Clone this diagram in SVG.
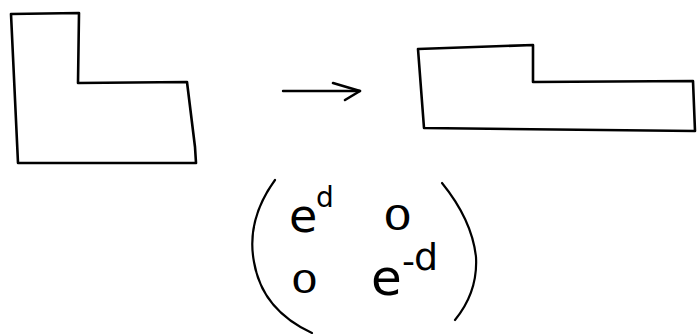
<svg xmlns="http://www.w3.org/2000/svg" width="697" height="334" viewBox="0 0 697 334">
<style>
.shape{fill:none;stroke:#000;stroke-width:2.6;stroke-linejoin:round;stroke-linecap:round}
.conn{fill:none;stroke:#000;stroke-width:2.4;stroke-linecap:round}
.paren{fill:none;stroke:#000;stroke-width:2.2;stroke-linecap:round}
.m{font-family:"DejaVu Sans",sans-serif;fill:#000}
</style>
<defs>
<marker id="head" markerUnits="userSpaceOnUse" markerWidth="34" markerHeight="24" refX="29" refY="10" orient="auto">
<path d="M2,2 L29,10 L14,19" fill="none" stroke="#000" stroke-width="2.6" stroke-linecap="round" stroke-linejoin="round"/>
</marker>
</defs>
<rect width="697" height="334" fill="#fff"/>
<g id="shape-before">
<path class="shape" d="M11,14 L79,13 L78,83 L187,82 L195,147 L196,163 L18,163 Z"/>
</g>
<g id="shape-after">
<path class="shape" d="M418,49 L533,45 L533,82 L693,81 L695,131 L424,128 Z"/>
</g>
<g id="matrix">
<path class="paren" d="M275,180 Q246,220 254,262 Q262,310 312,333"/>
<path class="paren" d="M442,183 Q472,220 476,257 Q478,292 455,320"/>
<text class="m" x="289" y="232" font-size="46">e<tspan x="316" y="207" font-size="28">d</tspan></text>
<text class="m" transform="translate(397.5,230) scale(1.35,1)" text-anchor="middle" font-size="34">0</text>
<text class="m" transform="translate(304.5,293) scale(1.35,1)" text-anchor="middle" font-size="32">0</text>
<text class="m" x="371" y="295" font-size="50">e<tspan x="402" y="273" font-size="36">-</tspan><tspan x="414" y="270" font-size="38">d</tspan></text>
</g>
<g id="connectors">
<path class="conn" d="M283,91 L360,91" marker-end="url(#head)"/>
</g>
</svg>
